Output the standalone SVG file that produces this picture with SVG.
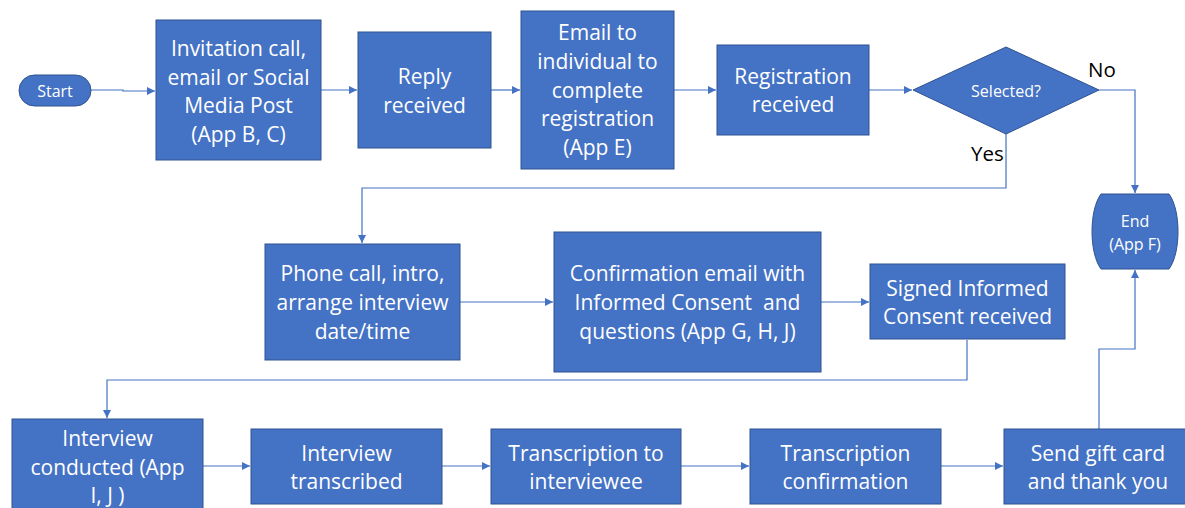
<svg xmlns="http://www.w3.org/2000/svg" width="1185" height="508" viewBox="0 0 1185 508">
  <style>
    .box { fill: #4472C4; stroke: #2F528F; stroke-width: 1; }
    .lbl { fill: #FFFFFF; font-family: "Open Sans", "Liberation Sans", sans-serif; font-size: 21px; text-anchor: middle; }
    .sm { fill: #FFFFFF; font-family: "Open Sans", "Liberation Sans", sans-serif; font-size: 16px; text-anchor: middle; }
    .branch { fill: #000000; font-family: "Open Sans", "Liberation Sans", sans-serif; font-size: 20.5px; }
    .conn { fill: none; stroke: #4472C4; stroke-width: 1.2; marker-end: url(#arrow); }
  </style>
  <defs>
    <marker id="arrow" viewBox="0 0 10 10" refX="10" refY="5" markerWidth="8" markerHeight="8" markerUnits="userSpaceOnUse" orient="auto">
      <path d="M0,0 L10,5 L0,10 Z" fill="#4472C4"/>
    </marker>
  </defs>

  <rect width="1185" height="508" fill="#FFFFFF"/>

  <!-- connectors -->
  <g id="connectors">
    <path class="conn" d="M91,90 H123 V91 H155"/>
    <path class="conn" d="M321,90 H357"/>
    <path class="conn" d="M491,90 H520"/>
    <path class="conn" d="M674,90 H716"/>
    <path class="conn" d="M869,90 H912"/>
    <path class="conn" d="M1099,90 H1135 V193"/>
    <path class="conn" d="M1006,134 V188 H362 V243"/>
    <path class="conn" d="M460,302 H553"/>
    <path class="conn" d="M821,302 H869"/>
    <path class="conn" d="M967,340 V380 H107 V418"/>
    <path class="conn" d="M203,466 H250"/>
    <path class="conn" d="M442,466 H490"/>
    <path class="conn" d="M681,466 H749"/>
    <path class="conn" d="M941,466 H1003"/>
    <path class="conn" d="M1099,429 V349 H1135 V270"/>
  </g>

  <g id="start">
    <rect class="box" x="19" y="75" width="72" height="31" rx="15.5"/>
    <text class="sm" x="55" y="96.5">Start</text>
  </g>

  <g id="invitation">
    <rect class="box" x="156" y="20" width="165" height="140"/>
    <text class="lbl" x="238.5" y="56">Invitation call,</text>
    <text class="lbl" x="238.5" y="84.5">email or Social</text>
    <text class="lbl" x="238.5" y="113">Media Post</text>
    <text class="lbl" x="238.5" y="141.5">(App B, C)</text>
  </g>

  <g id="reply">
    <rect class="box" x="358" y="32" width="133" height="116"/>
    <text class="lbl" x="424.5" y="84">Reply</text>
    <text class="lbl" x="424.5" y="112.5">received</text>
  </g>

  <g id="email">
    <rect class="box" x="521" y="11" width="153" height="158"/>
    <text class="lbl" x="597.5" y="40">Email to</text>
    <text class="lbl" x="597.5" y="69">individual to</text>
    <text class="lbl" x="597.5" y="97.5">complete</text>
    <text class="lbl" x="597.5" y="126">registration</text>
    <text class="lbl" x="597.5" y="155">(App E)</text>
  </g>

  <g id="registration">
    <rect class="box" x="717" y="45" width="152" height="90"/>
    <text class="lbl" x="793" y="83.5">Registration</text>
    <text class="lbl" x="793" y="112">received</text>
  </g>

  <g id="selected">
    <polygon class="box" points="913,90 1006,47 1099,90 1006,134"/>
    <text class="sm" x="1006" y="96.5">Selected?</text>
    <text class="branch" x="1088" y="77">No</text>
    <text class="branch" x="971" y="161">Yes</text>
  </g>

  <g id="end">
    <path class="box" d="M1101,194 H1169 C1181,210 1181,253 1169,269 H1101 C1089,253 1089,210 1101,194 Z"/>
    <text class="sm" x="1135" y="227">End</text>
    <text class="sm" x="1135" y="250">(App F)</text>
  </g>

  <g id="phone">
    <rect class="box" x="265" y="244" width="195" height="116"/>
    <text class="lbl" x="362.5" y="281">Phone call, intro,</text>
    <text class="lbl" x="362.5" y="310">arrange interview</text>
    <text class="lbl" x="362.5" y="339">date/time</text>
  </g>

  <g id="confirmation">
    <rect class="box" x="554" y="232" width="267" height="140"/>
    <text class="lbl" x="687.5" y="281">Confirmation email with</text>
    <text class="lbl" x="687.5" y="310" xml:space="preserve">Informed Consent  and</text>
    <text class="lbl" x="687.5" y="339">questions (App G, H, J)</text>
  </g>

  <g id="signed">
    <rect class="box" x="870" y="264" width="195" height="75"/>
    <text class="lbl" x="967.5" y="296">Signed Informed</text>
    <text class="lbl" x="967.5" y="324">Consent received</text>
  </g>

  <g id="interview-conducted">
    <rect class="box" x="12" y="419" width="191" height="100"/>
    <text class="lbl" x="107.5" y="446">Interview</text>
    <text class="lbl" x="107.5" y="474.5">conducted (App</text>
    <text class="lbl" x="107.5" y="503">I, J )</text>
  </g>

  <g id="interview-transcribed">
    <rect class="box" x="251" y="429" width="191" height="75"/>
    <text class="lbl" x="346.5" y="461">Interview</text>
    <text class="lbl" x="346.5" y="489">transcribed</text>
  </g>

  <g id="transcription-to">
    <rect class="box" x="491" y="429" width="190" height="75"/>
    <text class="lbl" x="586" y="461">Transcription to</text>
    <text class="lbl" x="586" y="489">interviewee</text>
  </g>

  <g id="transcription-confirmation">
    <rect class="box" x="750" y="429" width="191" height="75"/>
    <text class="lbl" x="845.5" y="461">Transcription</text>
    <text class="lbl" x="845.5" y="489">confirmation</text>
  </g>

  <g id="gift-card">
    <rect class="box" x="1004" y="429" width="190" height="75"/>
    <text class="lbl" x="1098" y="461">Send gift card</text>
    <text class="lbl" x="1098" y="489">and thank you</text>
  </g>
</svg>
